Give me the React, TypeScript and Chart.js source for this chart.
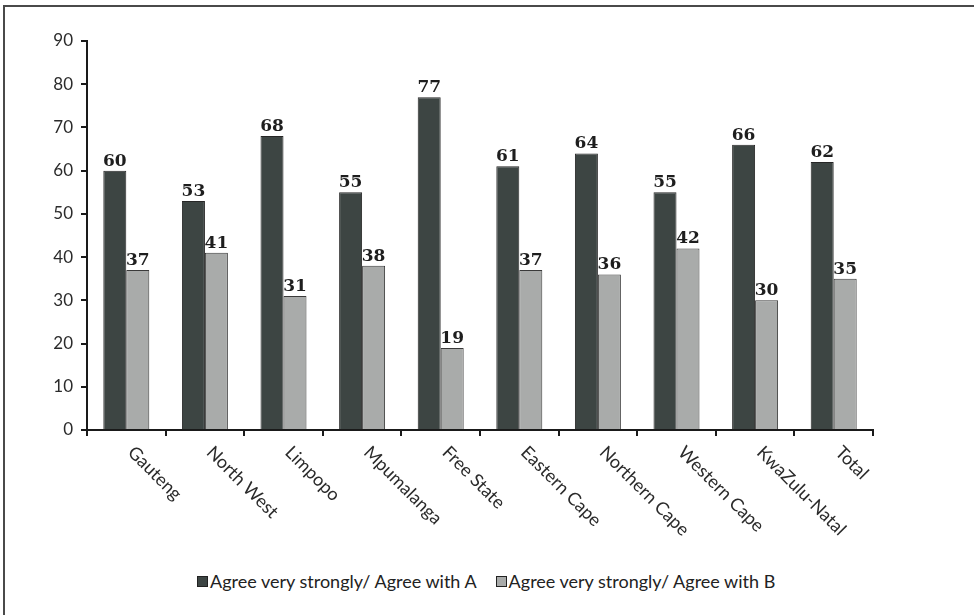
import React, { useEffect, useRef } from "react";
import { Chart, registerables } from "chart.js";

Chart.register(...registerables);

// Province categories and the two agreement series (percent)
const regions = [
  "Gauteng",
  "North West",
  "Limpopo",
  "Mpumalanga",
  "Free State",
  "Eastern Cape",
  "Northern Cape",
  "Western Cape",
  "KwaZulu-Natal",
  "Total",
];
const agreeA = [60, 53, 68, 55, 77, 61, 64, 55, 66, 62];
const agreeB = [37, 41, 31, 38, 19, 37, 36, 42, 30, 35];
const seriesNames = [
  "Agree very strongly/ Agree with A",
  "Agree very strongly/ Agree with B",
];
const seriesColors = ["#3d4543", "#a9abaa"];
const yMin = 0;
const yMax = 90;
const yStep = 10;

const SANS = "Lato, 'Open Sans', sans-serif";
const SERIF = "'DejaVu Serif', 'Liberation Serif', serif";

// Bold value printed above every bar
const valueLabels = {
  id: "valueLabels",
  afterDatasetsDraw(chart: any) {
    const { ctx } = chart;
    ctx.save();
    ctx.font = `bold 17px ${SERIF}`;
    ctx.fillStyle = "#1e1e1e";
    ctx.textAlign = "center";
    ctx.textBaseline = "alphabetic";
    chart.data.datasets.forEach((ds: any, di: number) => {
      const meta = chart.getDatasetMeta(di);
      meta.data.forEach((bar: any, i: number) => {
        ctx.fillText(String(ds.data[i]), bar.x, bar.y - 5);
      });
    });
    ctx.restore();
  },
};

// Category names slanted downward to the right, starting under each group
const slantedLabels = {
  id: "slantedLabels",
  afterDraw(chart: any) {
    const { ctx } = chart;
    const xScale = chart.scales.x;
    ctx.save();
    ctx.font = `18px ${SANS}`;
    ctx.fillStyle = "#2b2b2b";
    ctx.textAlign = "left";
    ctx.textBaseline = "top";
    chart.data.labels.forEach((label: string, i: number) => {
      const x = xScale.getPixelForValue(i);
      const y = xScale.top;
      ctx.save();
      ctx.translate(x + 11, y + 13);
      ctx.rotate(Math.PI / 4);
      ctx.fillText(label, 0, 0);
      ctx.restore();
    });
    ctx.restore();
  },
};

const CANVAS_W = 974;
const CANVAS_H = 545;

function BarChart() {
  const canvasRef = useRef<HTMLCanvasElement | null>(null);

  useEffect(() => {
    if (!canvasRef.current) return;
    const chart = new Chart(canvasRef.current, {
      type: "bar",
      data: {
        labels: regions,
        datasets: [
          {
            label: seriesNames[0],
            data: agreeA,
            backgroundColor: seriesColors[0],
            borderColor: "#262626",
            borderWidth: 1,
            categoryPercentage: 0.585,
            barPercentage: 1,
          },
          {
            label: seriesNames[1],
            data: agreeB,
            backgroundColor: seriesColors[1],
            borderColor: "#3a3a3a",
            borderWidth: 1,
            categoryPercentage: 0.585,
            barPercentage: 1,
          },
        ],
      },
      options: {
        animation: false,
        responsive: false,
        devicePixelRatio: 1,
        layout: { padding: { left: 20, right: 101, top: 41, bottom: 0 } },
        plugins: {
          legend: { display: false },
          tooltip: { enabled: false },
        },
        scales: {
          x: {
            grid: {
              offset: true,
              drawOnChartArea: false,
              drawTicks: true,
              tickLength: 6,
              color: "#1a1a1a",
              lineWidth: 2,
            },
            border: { display: true, color: "#1a1a1a", width: 2 },
            ticks: { display: false },
            afterFit(scale: any) {
              scale.height = CANVAS_H - 430;
            },
          },
          y: {
            min: yMin,
            max: yMax,
            grid: {
              drawOnChartArea: false,
              drawTicks: true,
              tickLength: 6,
              color: "#1a1a1a",
              lineWidth: 2,
            },
            border: { display: true, color: "#1a1a1a", width: 2 },
            ticks: {
              stepSize: yStep,
              padding: 8,
              color: "#2b2b2b",
              font: { family: SANS, size: 17 },
            },
            afterFit(scale: any) {
              scale.width = 67;
            },
          },
        },
      },
      plugins: [valueLabels, slantedLabels],
    });
    return () => chart.destroy();
  }, []);

  return (
    <canvas
      ref={canvasRef}
      width={CANVAS_W}
      height={CANVAS_H}
      style={{ position: "absolute", left: 0, top: 0, width: CANVAS_W, height: CANVAS_H }}
    />
  );
}

export default function App() {
  return (
    <div
      style={{
        position: "absolute",
        left: 0,
        top: 0,
        width: 974,
        height: 615,
        background: "#ffffff",
        overflow: "hidden",
      }}
    >
      <div
        style={{
          position: "absolute",
          left: 3,
          top: 5,
          width: 980,
          height: 620,
          borderTop: "2px solid #4a4a4a",
          borderLeft: "2px solid #4a4a4a",
        }}
      />
      <BarChart />
      <div
        style={{
          position: "absolute",
          left: 197,
          top: 570,
          display: "flex",
          alignItems: "center",
          fontFamily: SANS,
          fontSize: 18,
          lineHeight: "normal",
          color: "#222",
          whiteSpace: "nowrap",
        }}
      >
        {seriesNames.map((name, i) => (
          <div key={name} style={{ display: "flex", alignItems: "center", marginRight: 19 }}>
            <span
              style={{
                display: "inline-block",
                width: 9,
                height: 9,
                background: seriesColors[i],
                border: "1px solid #222",
                marginRight: 2,
              }}
            />
            <span>{name}</span>
          </div>
        ))}
      </div>
    </div>
  );
}
